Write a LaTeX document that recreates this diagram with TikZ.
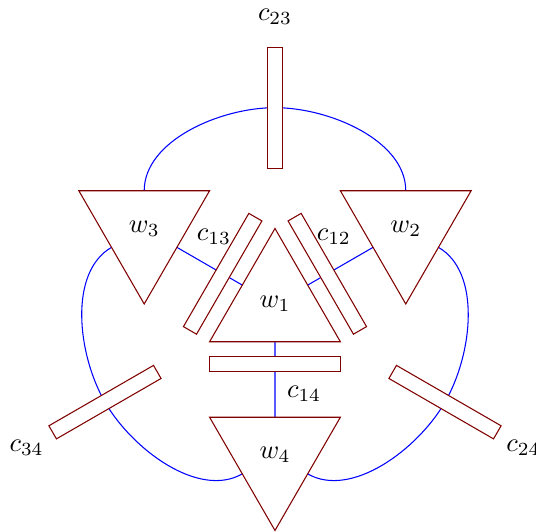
\documentclass[tikz,border=0pt]{standalone}
\usetikzlibrary{shapes.geometric,calc,backgrounds}
\definecolor{wred}{RGB}{128,0,0}
\begin{document}
\begin{tikzpicture}[
  tri/.style={regular polygon, regular polygon sides=3, draw=wred, minimum size=2cm, inner sep=0pt, outer sep=0pt},
  downtri/.style={tri, shape border rotate=180},
  cbox/.style={rectangle, draw=wred, fill=white, minimum height=0.2cm, inner sep=0pt, outer sep=0pt},
  link/.style={blue},
  curvein/.style={out distance=0.66cm, in distance=0.73cm},
  curveout/.style={out distance=0.73cm, in distance=0.66cm}
]
\useasboundingbox (-3.642,-3.007) rectangle (3.457,4.026);
\clip (-3.642,-3.007) rectangle (3.457,4.026);
% weights
\node[tri] (w1) at (0,0) {$w_1$};
\node[downtri] (w2) at (30:2) {$w_2$};
\node[downtri] (w3) at (150:2) {$w_3$};
\node[downtri] (w4) at (270:2) {$w_4$};
% couplers
\node[cbox, minimum width=1.732cm] (c14) at (270:0.8) {};
\node[cbox, minimum width=1.732cm, rotate=60] (c13) at (150:0.8) {};
\node[cbox, minimum width=1.732cm, rotate=-60] (c12) at (30:0.8) {};
\node[cbox, minimum width=1.6cm, rotate=90] (c23) at (90:2.6) {};
\node[cbox, minimum width=1.6cm, rotate=30] (c34) at (210:2.6) {};
\node[cbox, minimum width=1.6cm, rotate=-30] (c24) at (330:2.6) {};
% labels
\node (l23) at (90:3.8) {$c_{23}$};
\node (l34) at (210:3.8) {$c_{34}$};
\node (l24) at (330:3.8) {$c_{24}$};
\node (l14) at (0.385,-1.19) {$c_{14}$};
\node (l13) at (-0.808,0.887) {$c_{13}$};
\node (l12) at (0.78,0.887) {$c_{12}$};
% curve end points
\coordinate (w3t) at ($(w3.center)+(90:0.5)$);
\coordinate (w2t) at ($(w2.center)+(90:0.5)$);
\coordinate (w3l) at ($(w3.center)+(210:0.5)$);
\coordinate (w4l) at ($(w4.center)+(210:0.5)$);
\coordinate (w2r) at ($(w2.center)+(330:0.5)$);
\coordinate (w4r) at ($(w4.center)+(330:0.5)$);
\begin{scope}[on background layer]
\draw[link] (w3t) to[out=90,in=180,curvein] (c23.center) to[out=0,in=90,curveout] (w2t);
\draw[link] (w3l) to[out=210,in=120,curvein] (c34.center) to[out=300,in=210,curveout] (w4l);
\draw[link] (w2r) to[out=330,in=60,curvein] (c24.center) to[out=240,in=330,curveout] (w4r);
\draw[link] (w3) -- (w1);
\draw[link] (w2) -- (w1);
\draw[link] (w1) -- (w4);
\end{scope}
\end{tikzpicture}
\end{document}
